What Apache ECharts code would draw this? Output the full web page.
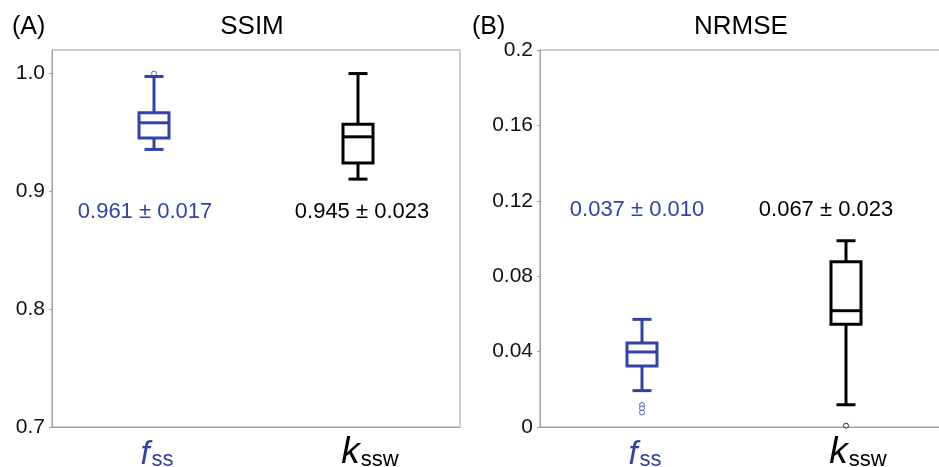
<!DOCTYPE html>
<html>
<head>
<meta charset="utf-8">
<script src="https://cdn.jsdelivr.net/npm/echarts@6/dist/echarts.min.js"></script>
<style>
html,body{margin:0;padding:0;background:#fff;overflow:hidden;}
#chart{width:939px;height:467px;}
</style>
</head>
<body>
<div id="chart"></div>
<script>
// ---- data ----
const categories = ['f_ss', 'k_ssw'];
const catColors = ['#3142a8', '#000000'];
// [categoryIndex, lowWhisker, Q1, median, Q3, highWhisker]
const ssimBoxes = [
  [0, 0.9356, 0.9452, 0.9582, 0.9667, 0.9975],
  [1, 0.9104, 0.9240, 0.9463, 0.9570, 1.0000]
];
const ssimOutliers = [[0, 1.0]];
const nrmseBoxes = [
  [0, 0.0193, 0.0324, 0.0398, 0.0446, 0.0571],
  [1, 0.0118, 0.0545, 0.0617, 0.0877, 0.0988]
];
const nrmseOutliers = [[0, 0.0117], [0, 0.0099], [0, 0.0077], [1, 0.0007]];
const ssimStats = ['0.961 ± 0.017', '0.945 ± 0.023'];
const nrmseStats = ['0.037 ± 0.010', '0.067 ± 0.023'];
const ssimTicks = [0.7, 0.8, 0.9, 1.0];
const nrmseTicks = [0, 0.04, 0.08, 0.12, 0.16, 0.2];

const FONT = '"Liberation Sans", Arial, Helvetica, sans-serif';
const GRAY = '#a0a0a0';

const chart = echarts.init(document.getElementById('chart'), null, {renderer: 'canvas'});

function renderBox(params, api) {
  const ci = api.value(0);
  const pts = [1, 2, 3, 4, 5].map(i => api.coord([ci, api.value(i)]));
  const cx = pts[0][0];
  const yLow = pts[0][1], yQ1 = pts[1][1], yMed = pts[2][1], yQ3 = pts[3][1], yHigh = pts[4][1];
  const bw = 30, cw = 19;
  const color = catColors[ci];
  const st = {stroke: color, lineWidth: 3, fill: null};
  return {
    type: 'group',
    children: [
      {type: 'line', shape: {x1: cx, y1: yLow, x2: cx, y2: yQ1}, style: st},
      {type: 'line', shape: {x1: cx, y1: yQ3, x2: cx, y2: yHigh}, style: st},
      {type: 'line', shape: {x1: cx - cw / 2, y1: yLow, x2: cx + cw / 2, y2: yLow}, style: st},
      {type: 'line', shape: {x1: cx - cw / 2, y1: yHigh, x2: cx + cw / 2, y2: yHigh}, style: st},
      {type: 'rect', shape: {x: cx - bw / 2, y: yQ3, width: bw, height: yQ1 - yQ3}, style: {stroke: color, lineWidth: 3, fill: '#fff'}},
      {type: 'line', shape: {x1: cx - bw / 2, y1: yMed, x2: cx + bw / 2, y2: yMed}, style: st}
    ]
  };
}

function xAxisCfg(gridIndex) {
  return {
    type: 'category',
    gridIndex: gridIndex,
    data: categories,
    boundaryGap: true,
    axisLine: {lineStyle: {color: GRAY, width: 1}},
    axisTick: {alignWithLabel: true, length: 3, lineStyle: {color: GRAY}},
    splitLine: {show: false},
    axisLabel: {
      margin: 6,
      hideOverlap: false,
      formatter: function (v) {
        return v === 'f_ss' ? '{fb|f}{sb|ss}' : '{kk|k}{sk|ssw}';
      },
      rich: {
        fb: {fontFamily: FONT, fontStyle: 'italic', fontSize: 33, color: catColors[0], verticalAlign: 'bottom', lineHeight: 38, padding: [0, 0, 0, 6]},
        sb: {fontFamily: FONT, fontSize: 22, color: catColors[0], verticalAlign: 'bottom', lineHeight: 38, padding: [0, 0, 0, 2]},
        kk: {fontFamily: FONT, fontStyle: 'italic', fontSize: 37, color: '#000', verticalAlign: 'bottom', lineHeight: 38, padding: [0, 0, 0, 24]},
        sk: {fontFamily: FONT, fontSize: 22, color: '#000', verticalAlign: 'bottom', lineHeight: 38, padding: [0, 0, 0, 1]}
      }
    }
  };
}

function statText(x, y, text, color) {
  return {type: 'text', x: x, y: y, style: {text: text, fill: color, font: '22px ' + FONT, textAlign: 'center', textVerticalAlign: 'middle'}};
}

const option = {
  backgroundColor: '#fff',
  animation: false,
  grid: [
    {left: 52, top: 50, width: 408, height: 377, show: true, borderColor: GRAY, borderWidth: 1, containLabel: false, outerBoundsMode: 'none'},
    {left: 540, top: 50, width: 408, height: 377, show: true, borderColor: GRAY, borderWidth: 1, containLabel: false, outerBoundsMode: 'none'}
  ],
  xAxis: [xAxisCfg(0), xAxisCfg(1)],
  yAxis: [
    {
      type: 'value', gridIndex: 0, min: 0.7, max: 1.02, interval: 0.1,
      axisLine: {show: true, lineStyle: {color: GRAY}},
      axisTick: {show: true, length: 3, lineStyle: {color: GRAY}, customValues: ssimTicks},
      splitLine: {show: false},
      axisLabel: {customValues: ssimTicks, color: '#111', fontFamily: FONT, fontSize: 21, margin: 7,
        formatter: v => Number(v).toFixed(1)}
    },
    {
      type: 'value', gridIndex: 1, min: 0, max: 0.2, interval: 0.04,
      axisLine: {show: true, lineStyle: {color: GRAY}},
      axisTick: {show: true, length: 3, lineStyle: {color: GRAY}, customValues: nrmseTicks},
      splitLine: {show: false},
      axisLabel: {customValues: nrmseTicks, color: '#111', fontFamily: FONT, fontSize: 21, margin: 7,
        formatter: v => String(Math.round(v * 100) / 100)}
    }
  ],
  series: [
    {type: 'custom', xAxisIndex: 0, yAxisIndex: 0, renderItem: renderBox, data: ssimBoxes, encode: {x: 0, y: [1, 2, 3, 4, 5]}, z: 2},
    {type: 'custom', xAxisIndex: 1, yAxisIndex: 1, renderItem: renderBox, data: nrmseBoxes, encode: {x: 0, y: [1, 2, 3, 4, 5]}, z: 2},
    {type: 'scatter', xAxisIndex: 0, yAxisIndex: 0, symbol: 'circle', symbolSize: 5, z: 1,
      data: ssimOutliers.map(o => ({value: o, itemStyle: {color: '#fff', borderColor: catColors[o[0]], borderWidth: 1}}))},
    {type: 'scatter', xAxisIndex: 1, yAxisIndex: 1, symbol: 'circle', symbolSize: 5, z: 3,
      data: nrmseOutliers.map(o => ({value: o, itemStyle: {color: '#fff', borderColor: catColors[o[0]], borderWidth: 1}}))}
  ],
  graphic: [
    {type: 'text', x: 12, y: 27, style: {text: '(A)', fill: '#000', font: '25px ' + FONT, textAlign: 'left', textVerticalAlign: 'middle'}},
    {type: 'text', x: 252, y: 27, style: {text: 'SSIM', fill: '#000', font: '26px ' + FONT, textAlign: 'center', textVerticalAlign: 'middle'}},
    {type: 'text', x: 472, y: 27, style: {text: '(B)', fill: '#000', font: '25px ' + FONT, textAlign: 'left', textVerticalAlign: 'middle'}},
    {type: 'text', x: 741, y: 27, style: {text: 'NRMSE', fill: '#000', font: '26px ' + FONT, textAlign: 'center', textVerticalAlign: 'middle'}},
    statText(145, 212, ssimStats[0], catColors[0]),
    statText(362, 212, ssimStats[1], catColors[1]),
    statText(637, 210, nrmseStats[0], catColors[0]),
    statText(826, 210, nrmseStats[1], catColors[1])
  ]
};
chart.setOption(option);
</script>
</body>
</html>
